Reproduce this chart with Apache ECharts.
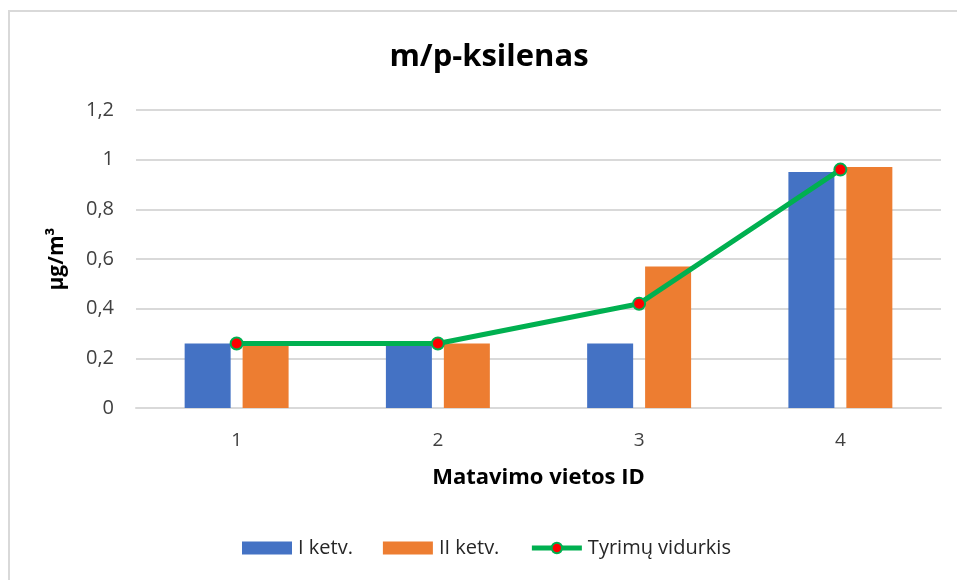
<!DOCTYPE html>
<html>
<head>
<meta charset="utf-8">
<script src="https://cdn.jsdelivr.net/npm/echarts@6/dist/echarts.min.js"></script>
<style>
  html, body { margin: 0; padding: 0; background: #fff; }
  #chartDiv { width: 957px; height: 580px; }
</style>
</head>
<body>
<div id="chartDiv"></div>
<script>
var categories = ['1', '2', '3', '4'];
var firstQuarter = [0.26, 0.255, 0.26, 0.95];
var secondQuarter = [0.25, 0.26, 0.57, 0.97];
var average = [0.26, 0.26, 0.42, 0.96];
var yTicks = [0, 0.2, 0.4, 0.6, 0.8, 1, 1.2];

var fontName = 'Open Sans';

// chart init
var myChart = echarts.init(document.getElementById('chartDiv'));

var option = {
    backgroundColor: '#fff',
    animation: false,
    textStyle: { fontFamily: fontName },
    graphic: [{
        type: 'rect',
        shape: { x: 9, y: 11, width: 960, height: 600 },
        style: { fill: 'none', stroke: '#d9d9d9', lineWidth: 2 },
        silent: true
    }, {
        // chart title, centred over the plot like the original
        type: 'text',
        x: 489,
        y: 57,
        style: {
            text: 'm/p-ksilenas',
            align: 'center',
            verticalAlign: 'middle',
            fontSize: 31,
            fontWeight: 'bold',
            fontFamily: fontName,
            fill: '#000'
        },
        silent: true
    }],
    legend: {
        bottom: 22,
        left: 242,
        padding: 0,
        itemWidth: 50,
        itemHeight: 13,
        itemGap: 30,
        textStyle: { fontSize: 20, color: '#262626', fontFamily: fontName, padding: [0, 0, 0, 1] },
        data: [
            { name: 'I ketv.', icon: 'rect' },
            { name: 'II ketv.', icon: 'rect' },
            { name: 'Tyrimų vidurkis', lineStyle: { width: 5 } }
        ]
    },
    grid: {
        left: 136,
        right: 16,
        top: 110,
        bottom: 172,
        containLabel: false
    },
    xAxis: [{
        type: 'category',
        data: categories,
        name: 'Matavimo vietos ID',
        nameLocation: 'middle',
        nameGap: 59,
        nameTextStyle: { fontSize: 22, fontWeight: 'bold', color: '#000', fontFamily: fontName },
        axisLine: { lineStyle: { color: '#d9d9d9', width: 2 } },
        axisTick: { show: false },
        axisLabel: { fontSize: 19, color: '#404040', margin: 23 }
    }],
    yAxis: [{
        type: 'value',
        min: 0,
        max: 1.2,
        interval: 0.2,
        name: 'µg/m³',
        nameLocation: 'middle',
        nameGap: 68,
        nameRotate: 90,
        nameTextStyle: { fontSize: 21, fontWeight: 'bold', color: '#000', fontFamily: fontName },
        axisLine: { show: false },
        axisTick: { show: false },
        splitLine: { lineStyle: { color: '#d9d9d9', width: 2 } },
        axisLabel: {
            fontSize: 20,
            color: '#404040',
            margin: 22,
            formatter: function (v) {
                var t = yTicks.filter(function (k) { return Math.abs(k - v) < 1e-9; })[0];
                return String(t === undefined ? v : t).replace('.', ',');
            }
        }
    }],
    series: [{
        name: 'I ketv.',
        type: 'bar',
        barWidth: 46,
        barGap: '26%',
        itemStyle: { color: '#4472c4' },
        data: firstQuarter
    }, {
        name: 'II ketv.',
        type: 'bar',
        barWidth: 46,
        itemStyle: { color: '#ed7d31' },
        data: secondQuarter
    }, {
        name: 'Tyrimų vidurkis',
        type: 'line',
        symbol: 'circle',
        symbolSize: 12,
        lineStyle: { color: '#00b050', width: 5 },
        itemStyle: { color: '#ff0000', borderColor: '#00b050', borderWidth: 2 },
        z: 5,
        data: average
    }]
};

myChart.setOption(option);
</script>
</body>
</html>
